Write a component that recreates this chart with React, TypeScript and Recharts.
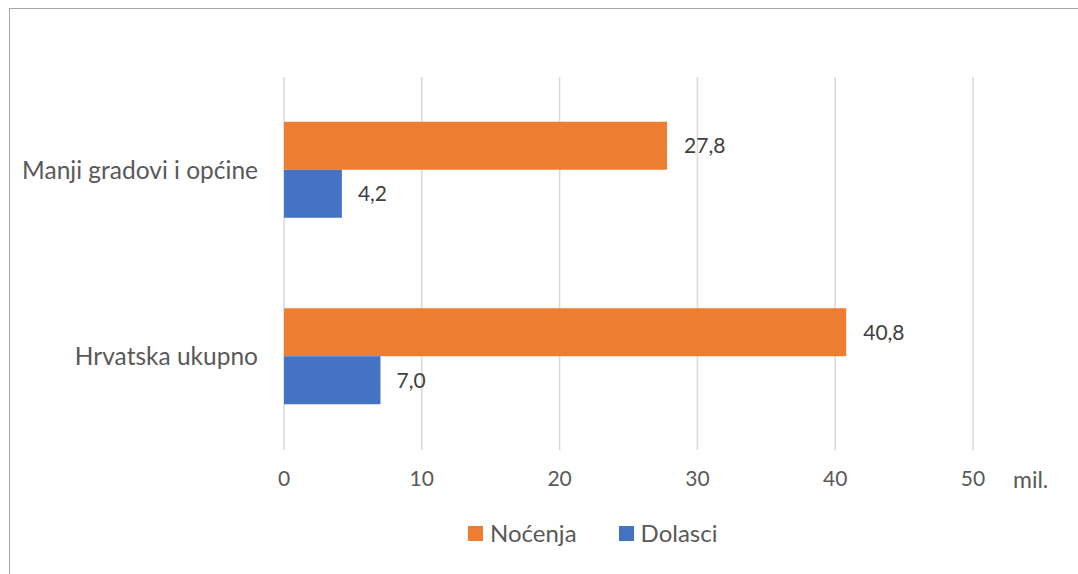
import React from 'react';
import { BarChart, Bar, XAxis, YAxis, CartesianGrid, Legend, LabelList } from 'recharts';

const categories = ['Manji gradovi i općine', 'Hrvatska ukupno'];
const nocenja = [27.8, 40.8];
const dolasci = [4.2, 7.0];
const xTicks = [0, 10, 20, 30, 40, 50];
const seriesNames = ['Noćenja', 'Dolasci'];

const data = categories.map((name, i) => ({ name, nocenja: nocenja[i], dolasci: dolasci[i] }));

const FONT = 'Lato, "Open Sans", sans-serif';
const ORANGE = '#ED7D31';
const BLUE = '#4472C4';
const AXIS_TEXT = '#595959';
const LABEL_TEXT = '#404040';

const fmt = (v: any) => Number(v).toFixed(1).replace('.', ',');

const LegendContent = () => (
  <div style={{ display: 'flex', alignItems: 'center', fontFamily: FONT, fontSize: 24, lineHeight: '28px', color: AXIS_TEXT, whiteSpace: 'nowrap' }}>
    <span style={{ display: 'inline-block', width: 15, height: 15, background: ORANGE, marginRight: 7 }} />
    <span style={{ marginRight: 42 }}>{seriesNames[0]}</span>
    <span style={{ display: 'inline-block', width: 15, height: 15, background: BLUE, marginRight: 7 }} />
    <span>{seriesNames[1]}</span>
  </div>
);

export default function App() {
  return (
    <div style={{ position: 'fixed', left: 0, top: 0, width: 1078, height: 574, background: '#fff', overflow: 'hidden' }}>
      <div style={{ position: 'absolute', left: 9, top: 8, width: 1100, height: 600, borderTop: '1.5px solid #a6a6a6', borderLeft: '1.5px solid #a6a6a6' }} />
      <div style={{ position: 'absolute', left: 0, top: 0 }}>
        <BarChart
          width={1078}
          height={574}
          data={data}
          layout="vertical"
          margin={{ top: 77, right: 105, bottom: 64, left: 10 }}
          barCategoryGap="24%"
          barGap={0}
        >
          <CartesianGrid horizontal={false} vertical={true} stroke="#d9d9d9" strokeWidth={1.5} />
          <XAxis
            type="number"
            domain={[0, 50]}
            ticks={xTicks}
            axisLine={false}
            tickLine={false}
            height={60}
            tickMargin={15}
            tick={{ fill: AXIS_TEXT, fontSize: 21, fontFamily: FONT }}
            label={{ value: 'mil.', position: 'right', offset: 40, fill: AXIS_TEXT, fontSize: 23, fontFamily: FONT }}
          />
          <YAxis
            type="category"
            dataKey="name"
            width={274}
            axisLine={false}
            tickLine={false}
            tickSize={0}
            tickMargin={26}
            tick={{ fill: AXIS_TEXT, fontSize: 24.5, fontFamily: FONT }}
          />
          <Legend
            layout="horizontal"
            verticalAlign="middle"
            align="center"
            content={<LegendContent />}
            wrapperStyle={{ position: 'absolute', left: 468, top: 519, width: 'auto' }}
          />
          <Bar dataKey="nocenja" name={seriesNames[0]} fill={ORANGE} isAnimationActive={false}>
            <LabelList dataKey="nocenja" position="right" offset={17} formatter={fmt} fill={LABEL_TEXT} fontSize={21} fontFamily={FONT} />
          </Bar>
          <Bar dataKey="dolasci" name={seriesNames[1]} fill={BLUE} isAnimationActive={false}>
            <LabelList dataKey="dolasci" position="right" offset={16} formatter={fmt} fill={LABEL_TEXT} fontSize={21} fontFamily={FONT} />
          </Bar>
        </BarChart>
      </div>
    </div>
  );
}
